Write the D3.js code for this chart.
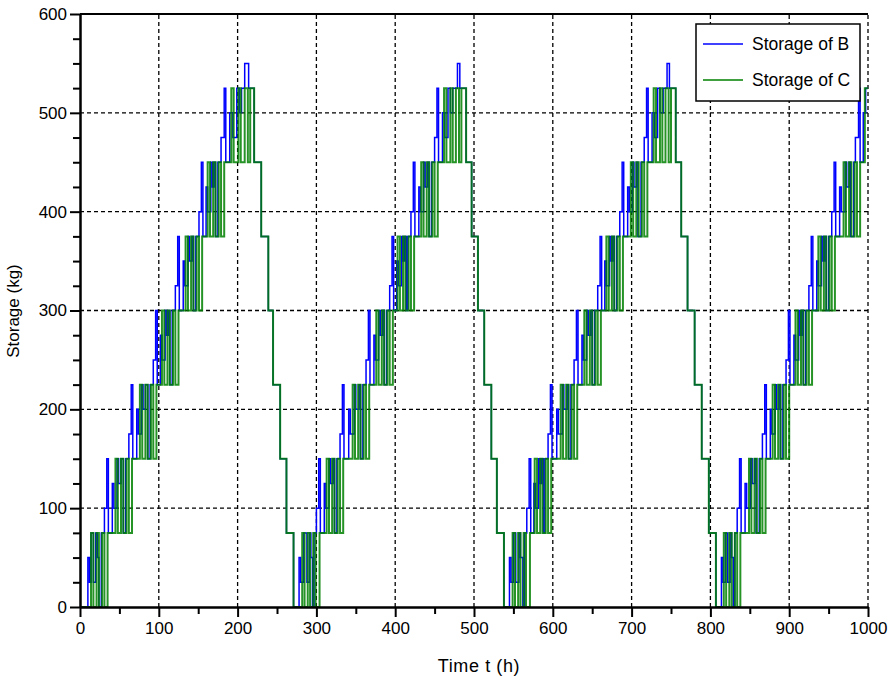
<!DOCTYPE html>
<html>
<head>
<meta charset="utf-8">
<script src="https://cdn.jsdelivr.net/npm/d3@7"></script>
<style>
  body { margin: 0; background: #fff; }
  text { font-family: "Liberation Sans", Arial, sans-serif; fill: #000; }
</style>
</head>
<body>
<div id="chart"></div>
<script>
// storage of B, step points [time h, kg]
var storageB = [
  [0,0],[10,50],[12,25],[14,75],[17,25],[20,75],[22,50],[24,0],[27,75],
  [31,100],[34,150],[36,75],[41,125],[43,100],[47,150],[49,125],[52,150],[55,75],[58,150],
  [62,175],[65,225],[67,150],[72,200],[74,175],[78,225],[80,200],[83,225],[86,150],[89,225],
  [93,250],[96,300],[98,225],[102,275],[104,250],[108,300],[110,275],[112,300],[114,225],[117,300],
  [121,325],[124,375],[126,300],[131,350],[133,325],[137,375],[139,350],[142,375],[144,300],[147,375],
  [151,400],[154,450],[156,375],[160,425],[162,400],[166,450],[168,425],[170,450],[172,375],[175,450],
  [179,475],[183,525],[185,450],[190,500],[194,475],[199,525],[202,500],[205,525],[209,550],[214,525],[221,450],
  [230,375],[239,300],[245,225],[254,150],[262,75],[271,0],
  [278,50],[280,25],[284,75],[288,25],[291,75],[293,50],[295,0],[297,75],
  [300,100],[303,150],[305,75],[310,125],[312,100],[316,150],[318,125],[321,150],[323,75],[326,150],
  [330,175],[333,225],[335,150],[341,200],[343,175],[348,225],[350,200],[354,225],[356,150],[359,225],
  [363,250],[366,300],[368,225],[373,275],[375,250],[379,300],[381,275],[384,300],[386,225],[389,300],
  [393,325],[396,375],[398,300],[402,350],[404,325],[408,375],[410,350],[412,375],[414,300],[416,375],
  [420,400],[423,450],[425,375],[430,425],[432,400],[436,450],[438,425],[441,450],[443,375],[446,450],
  [450,475],[453,525],[455,450],[460,500],[463,475],[467,525],[470,500],[473,525],[479,550],[482,525],[490,450],
  [497,375],[505,300],[513,225],[522,150],[529,75],[538,0],
  [545,50],[547,25],[550,75],[553,25],[557,75],[559,50],[562,0],[564,75],
  [567,100],[570,150],[572,75],[576,125],[578,100],[582,150],[584,125],[586,150],[588,75],[590,150],
  [594,175],[597,225],[599,150],[605,200],[607,175],[612,225],[614,200],[618,225],[620,150],[623,225],
  [627,250],[630,300],[632,225],[637,275],[639,250],[643,300],[645,275],[648,300],[650,225],[653,300],
  [657,325],[660,375],[662,300],[666,350],[668,325],[672,375],[674,350],[676,375],[678,300],[681,375],
  [685,400],[688,450],[690,375],[695,425],[697,400],[701,450],[703,425],[706,450],[708,375],[712,450],
  [716,475],[719,525],[721,450],[726,500],[729,475],[733,525],[736,500],[740,525],[745,550],[748,525],[756,450],
  [763,375],[771,300],[780,225],[789,150],[798,75],[807,0],
  [814,50],[816,25],[819,75],[822,25],[825,75],[827,50],[829,0],[831,75],
  [834,100],[837,150],[839,75],[844,125],[846,100],[851,150],[853,125],[856,150],[858,75],[862,150],
  [866,175],[869,225],[871,150],[876,200],[878,175],[882,225],[884,200],[887,225],[889,150],[892,225],
  [896,250],[899,300],[901,225],[906,275],[908,250],[912,300],[914,275],[916,300],[918,225],[921,300],
  [925,325],[928,375],[930,300],[935,350],[937,325],[941,375],[943,350],[945,375],[947,300],[950,375],
  [954,400],[957,450],[959,375],[964,425],[966,400],[971,450],[973,425],[976,450],[978,375],[982,450],
  [984,475],[988,525],[990,450],[994,500],[997,525],[1000,525]
];

// storage of C
var storageC = [
  [0,0],[14,75],[17,0],[21,75],[24,0],[28,75],[31,0],[35,75],
  [45,150],[48,75],[52,150],[55,75],[59,150],[62,75],[66,150],
  [76,225],[79,150],[83,225],[86,150],[90,225],[93,150],[97,225],
  [104,300],[107,225],[111,300],[114,225],[118,300],[121,225],[125,300],
  [134,375],[137,300],[141,375],[144,300],[148,375],[151,300],[155,375],
  [162,450],[165,375],[169,450],[172,375],[176,450],[179,375],[183,450],
  [192,525],[195,450],[201,525],[204,450],[209,525],[213,450],[216,525],[221,450],
  [230,375],[239,300],[245,225],[254,150],[262,75],[271,0],
  [282,75],[285,0],[289,75],[292,0],[296,75],[299,0],[304,75],
  [313,150],[316,75],[320,150],[323,75],[327,150],[330,75],[334,150],
  [346,225],[349,150],[353,225],[356,150],[360,225],[363,150],[367,225],
  [376,300],[379,225],[383,300],[386,225],[390,300],[393,225],[397,300],
  [403,375],[406,300],[410,375],[413,300],[417,375],[420,300],[424,375],
  [433,450],[436,375],[440,450],[443,375],[447,450],[450,375],[454,450],
  [462,525],[465,450],[470,525],[473,450],[477,525],[481,450],[484,525],[490,450],
  [497,375],[505,300],[513,225],[522,150],[529,75],[538,0],
  [549,75],[552,0],[556,75],[559,0],[563,75],[566,0],[571,75],
  [577,150],[580,75],[584,150],[587,75],[591,150],[594,75],[598,150],
  [610,225],[613,150],[617,225],[620,150],[624,225],[627,150],[631,225],
  [640,300],[643,225],[647,300],[650,225],[654,300],[657,225],[661,300],
  [668,375],[671,300],[675,375],[678,300],[682,375],[685,300],[689,375],
  [699,450],[702,375],[706,450],[709,375],[713,450],[716,375],[720,450],
  [728,525],[731,450],[736,525],[739,450],[743,525],[747,450],[750,525],[756,450],
  [763,375],[771,300],[780,225],[789,150],[798,75],[807,0],
  [817,75],[820,0],[824,75],[827,0],[831,75],[834,0],[838,75],
  [849,150],[852,75],[856,150],[859,75],[863,150],[866,75],[870,150],
  [879,225],[882,150],[886,225],[889,150],[893,225],[896,150],[900,225],
  [908,300],[911,225],[915,300],[918,225],[922,300],[925,225],[929,300],
  [937,375],[940,300],[944,375],[947,300],[951,375],[954,300],[958,375],
  [969,450],[972,375],[976,450],[979,375],[983,450],[986,375],[990,450],
  [996,525],[1000,525]
];

var xTicks = [0, 100, 200, 300, 400, 500, 600, 700, 800, 900, 1000];
var xMinor = [50, 150, 250, 350, 450, 550, 650, 750, 850, 950];
var yTicks = [0, 100, 200, 300, 400, 500, 600];
var yMinor = [25, 50, 75, 125, 150, 175, 225, 250, 275, 325, 350, 375, 425, 450, 475, 525, 550, 575];
var seriesNames = ["Storage of B", "Storage of C"];
var seriesColors = ["#0000ff", "#008000"];

var W = 895, H = 681;
var m = {left: 80, right: 27, top: 14, bottom: 74};

var svg = d3.select("#chart").append("svg")
  .attr("width", W)
  .attr("height", H);

var x = d3.scaleLinear().domain([0, 1000]).range([m.left, W - m.right]);
var y = d3.scaleLinear().domain([0, 600]).range([H - m.bottom, m.top]);

svg.append("clipPath").attr("id", "clip")
  .append("rect")
  .attr("x", m.left).attr("y", m.top)
  .attr("width", x(1000) - m.left).attr("height", y(0) - m.top);

// grid
var grid = svg.append("g").attr("stroke", "#000").attr("stroke-width", 1.3).attr("stroke-dasharray", "4,3");
grid.selectAll("line.v").data(xTicks.slice(1)).enter().append("line")
  .attr("x1", d => x(d)).attr("x2", d => x(d))
  .attr("y1", y(0)).attr("y2", y(600));
grid.selectAll("line.h").data(yTicks.slice(1)).enter().append("line")
  .attr("x1", x(0)).attr("x2", x(1000))
  .attr("y1", d => y(d)).attr("y2", d => y(d));

// lines
var line = d3.line()
  .x(d => x(d[0]))
  .y(d => y(d[1]))
  .curve(d3.curveStepAfter);

var plot = svg.append("g").attr("clip-path", "url(#clip)");
plot.append("path").datum(storageB)
  .attr("d", line).attr("fill", "none")
  .attr("stroke", seriesColors[0]).attr("stroke-width", 1.5);
plot.append("path").datum(storageC)
  .attr("d", line).attr("fill", "none")
  .attr("stroke", seriesColors[1]).attr("stroke-width", 2)
  .attr("stroke-opacity", 0.85);

// axes
svg.append("g")
  .attr("transform", "translate(0," + y(0) + ")")
  .call(d3.axisBottom(x).tickValues(xTicks).tickFormat(d3.format("d")).tickSize(10).tickPadding(5).tickSizeOuter(0));
svg.append("g")
  .attr("transform", "translate(0," + y(0) + ")")
  .call(d3.axisBottom(x).tickValues(xMinor).tickSize(7).tickFormat("").tickSizeOuter(0));
svg.append("g")
  .attr("transform", "translate(" + x(0) + ",0)")
  .call(d3.axisLeft(y).tickValues(yTicks).tickFormat(d3.format("d")).tickSize(10).tickPadding(3).tickSizeOuter(0));
svg.append("g")
  .attr("transform", "translate(" + x(0) + ",0)")
  .call(d3.axisLeft(y).tickValues(yMinor).tickSize(7).tickFormat("").tickSizeOuter(0));

svg.selectAll(".domain").attr("stroke", "#000").attr("stroke-width", 2);
svg.selectAll(".tick line").attr("stroke", "#000").attr("stroke-width", 2);
svg.selectAll(".tick text").attr("font-size", 17).attr("font-family", "Liberation Sans, Arial, sans-serif").attr("fill", "#000");

// top border
svg.append("line")
  .attr("x1", x(0)).attr("x2", x(1000))
  .attr("y1", y(600)).attr("y2", y(600))
  .attr("stroke", "#000").attr("stroke-width", 2);

// axis titles
svg.append("text")
  .attr("x", 479).attr("y", 672)
  .attr("text-anchor", "middle")
  .attr("font-size", 18)
  .attr("letter-spacing", 0.6)
  .text("Time t (h)");
svg.append("text")
  .attr("transform", "translate(19,311) rotate(-90)")
  .attr("text-anchor", "middle")
  .attr("font-size", 17)
  .text("Storage (kg)");

// legend
var lg = svg.append("g");
lg.append("rect")
  .attr("x", 696).attr("y", 24)
  .attr("width", 164).attr("height", 77)
  .attr("fill", "#fff").attr("stroke", "#000").attr("stroke-width", 1.5);
seriesNames.forEach(function(name, i) {
  var ly = 44 + i * 36;
  lg.append("line")
    .attr("x1", 703).attr("x2", 743)
    .attr("y1", ly).attr("y2", ly)
    .attr("stroke", seriesColors[i]).attr("stroke-width", 1.5);
  lg.append("text")
    .attr("x", 752).attr("y", ly + 6)
    .attr("font-size", 17.5)
    .text(name);
});
</script>
</body>
</html>
